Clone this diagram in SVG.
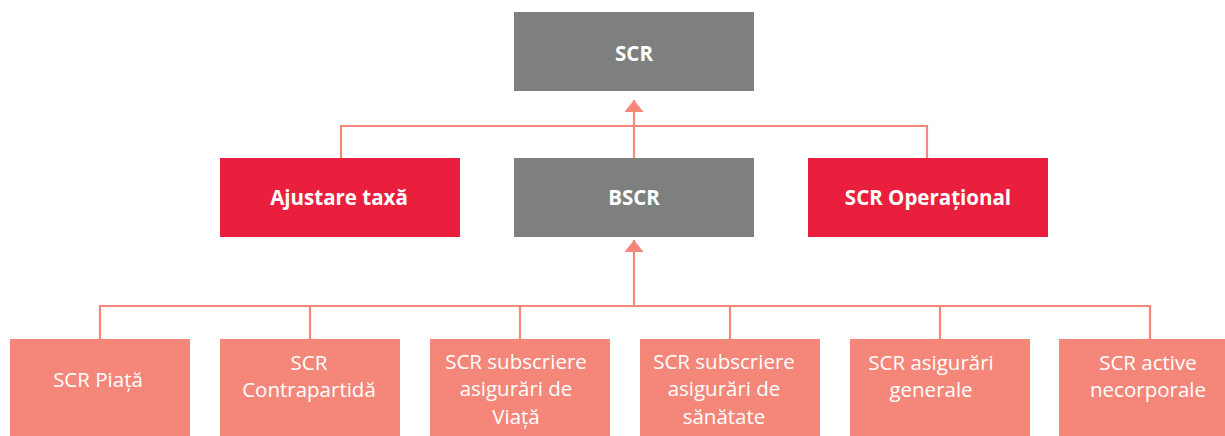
<svg xmlns="http://www.w3.org/2000/svg" width="1225" height="436" viewBox="0 0 1225 436">
<defs>
<style>
.gray{fill:#7e8080}
.red{fill:#ea1f3d}
.sal{fill:#f4877a}
.bt{font-family:"Open Sans","Liberation Sans",sans-serif;font-weight:700;font-size:20.5px;fill:#fff;text-anchor:middle}
.nt{font-family:"Open Sans","Liberation Sans",sans-serif;font-size:20.5px;fill:#fff;text-anchor:middle}
.ln{fill:none;stroke:#f4877a;stroke-width:2.2}
</style>
<marker id="ah" markerWidth="12" markerHeight="19" refX="12" refY="9.5" orient="auto" markerUnits="userSpaceOnUse">
<path d="M0,0 L12,9.5 L0,19 Z" fill="#f4877a"/>
</marker>
</defs>
<rect width="1225" height="436" fill="#fff"/>
<g id="connectors">
<path class="ln" d="M341,158 V126 H927 V158"/>
<path class="ln" d="M634,158 V100" marker-end="url(#ah)"/>
<path class="ln" d="M100,339 V306 H1150 V339"/>
<path class="ln" d="M310,306 V339 M520,306 V339 M730,306 V339 M940,306 V339"/>
<path class="ln" d="M634,306 V240" marker-end="url(#ah)"/>
</g>
<g id="scr"><rect class="gray" x="514" y="12" width="240" height="79"/><text class="bt" x="634" y="61">SCR</text></g>
<g id="ajustare"><rect class="red" x="220" y="158" width="240" height="79"/><text class="bt" x="339" y="205">Ajustare taxă</text></g>
<g id="bscr"><rect class="gray" x="514" y="158" width="240" height="79"/><text class="bt" x="634" y="205">BSCR</text></g>
<g id="operational"><rect class="red" x="808" y="158" width="240" height="79"/><text class="bt" x="928" y="205">SCR Operațional</text></g>
<g id="piata"><rect class="sal" x="10" y="339" width="180" height="100"/><text class="nt" x="98" y="387">SCR Piață</text></g>
<g id="contrapartida"><rect class="sal" x="220" y="339" width="180" height="100"/><text class="nt" x="309" y="370">SCR</text><text class="nt" x="309" y="397">Contrapartidă</text></g>
<g id="viata"><rect class="sal" x="430" y="339" width="180" height="100"/><text class="nt" x="516" y="369">SCR subscriere</text><text class="nt" x="516" y="396">asigurări de</text><text class="nt" x="516" y="424">Viață</text></g>
<g id="sanatate"><rect class="sal" x="640" y="339" width="180" height="100"/><text class="nt" x="724" y="369">SCR subscriere</text><text class="nt" x="724" y="396">asigurări de</text><text class="nt" x="724" y="424">sănătate</text></g>
<g id="generale"><rect class="sal" x="850" y="339" width="180" height="100"/><text class="nt" x="931" y="370">SCR asigurări</text><text class="nt" x="931" y="397">generale</text></g>
<g id="necorporale"><rect class="sal" x="1059" y="339" width="180" height="100"/><text class="nt" x="1148" y="370">SCR active</text><text class="nt" x="1148" y="397">necorporale</text></g>
</svg>
